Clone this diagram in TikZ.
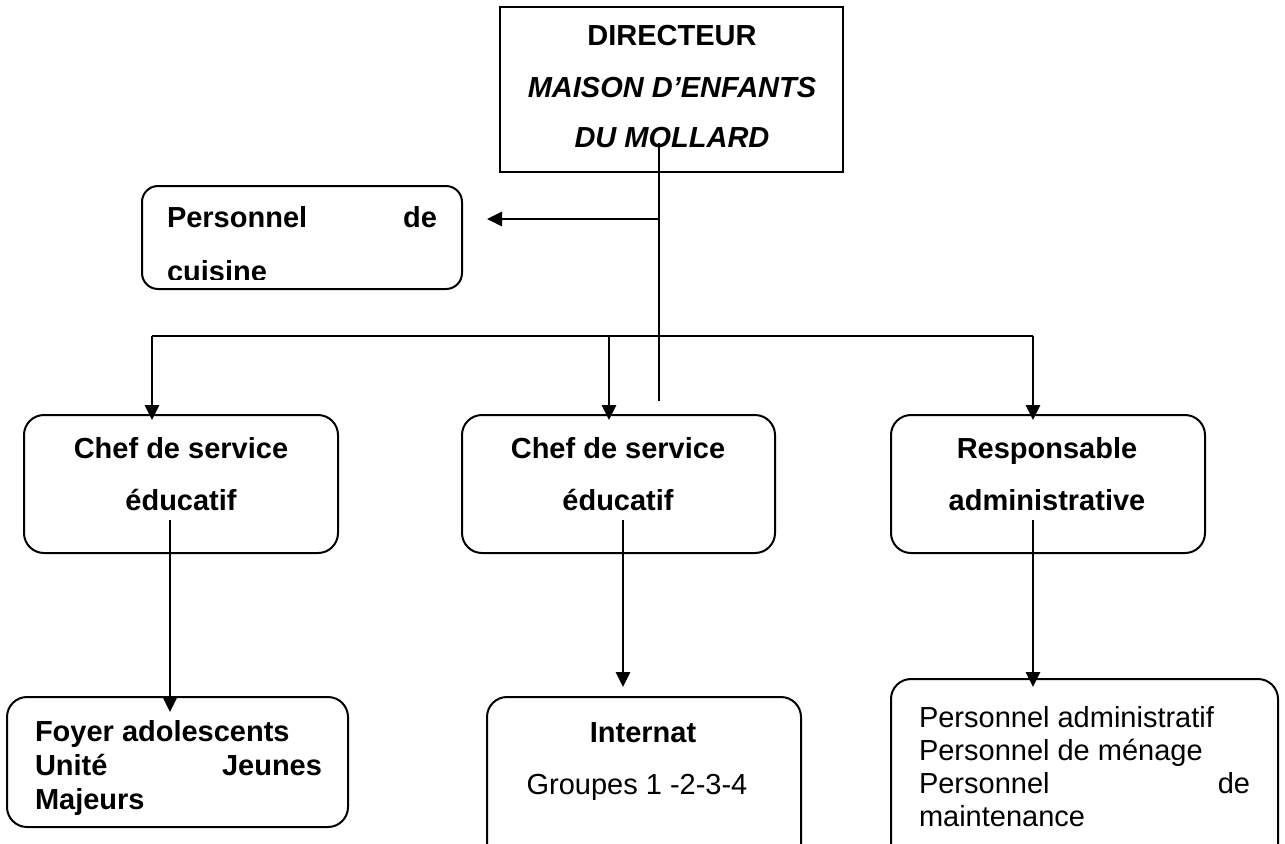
\documentclass[tikz,border=0pt]{standalone}
\usepackage{fontspec}
\setmainfont{Liberation Sans}
\usetikzlibrary{arrows.meta}
\begin{document}
\begin{tikzpicture}[x=0.5pt,y=-0.5pt,
  box/.style={draw, line width=1pt, inner sep=0pt, outer sep=0pt, rectangle},
  rbox/.style={box, rounded corners=10pt},
  txt/.style={inner sep=0pt, outer sep=0pt, font=\fontsize{14.5}{17}\selectfont},
  btxt/.style={inner sep=0pt, outer sep=0pt, font=\fontsize{14.5}{17}\selectfont\bfseries},
  bitxt/.style={inner sep=0pt, outer sep=0pt, font=\fontsize{14.5}{17}\selectfont\bfseries\itshape},
  conn/.style={line width=1.2pt},
  arr/.style={line width=1.4pt, -{Triangle[length=7.5pt,width=7pt]}}]
\useasboundingbox (0,0) rectangle (1285,843);
\clip (0,0) rectangle (1285,843);

% boxes
\node[box, minimum width=171.5pt, minimum height=82.5pt] (dir) at (671.5,89.5) {};
\node[rbox, rounded corners=8pt, minimum width=160pt, minimum height=51.5pt] (cuisine) at (302,237.5) {};
\node[rbox, minimum width=157pt, minimum height=69pt] (chefA) at (181,484) {};
\node[rbox, minimum width=156.5pt, minimum height=69pt] (chefB) at (618.5,484) {};
\node[rbox, minimum width=157pt, minimum height=69pt] (resp) at (1048,484) {};
\node[rbox, minimum width=170.5pt, minimum height=65pt] (foyer) at (177.5,762) {};
\node[rbox, minimum width=157pt, minimum height=89pt] (internat) at (644,786) {};
\node[rbox, minimum width=193.5pt, minimum height=98pt] (persadm) at (1084.5,777) {};

% texts
\node[btxt, anchor=base] (dir1) at (672,45) {DIRECTEUR};
\node[bitxt, anchor=base] (dir2) at (672,97) {MAISON D’ENFANTS};
\node[bitxt, anchor=base] (dir3) at (672,147) {DU MOLLARD};

\node[btxt, anchor=base west] (cuis1) at (167,227) {\makebox[135pt][s]{Personnel\hfill de}};
\begin{scope}
  \clip (142,186) rectangle (462,279);
  \node[btxt, anchor=base west] (cuis2) at (167,281) {cuisine};
\end{scope}

\node[btxt, anchor=base] (ca1) at (181,458) {Chef de service};
\node[btxt, anchor=base] (ca2) at (181,510) {éducatif};
\node[btxt, anchor=base] (cb1) at (618,458) {Chef de service};
\node[btxt, anchor=base] (cb2) at (618,510) {éducatif};
\node[btxt, anchor=base] (r1) at (1047,458) {Responsable};
\node[btxt, anchor=base] (r2) at (1047,510) {administrative};

\node[btxt, anchor=base west] (f1) at (35,741) {Foyer adolescents};
\node[btxt, anchor=base west] (f2) at (35,775) {\makebox[143.5pt][s]{Unité\hfill Jeunes}};
\node[btxt, anchor=base west] (f3) at (35,809) {Majeurs};

\node[btxt, anchor=base] (i1) at (643,742) {Internat};
\node[txt, anchor=base] (i2) at (637,794) {Groupes 1 -2-3-4};

\node[txt, anchor=base west] (p1) at (919,727) {Personnel administratif};
\node[txt, anchor=base west] (p2) at (919,760) {Personnel de ménage};
\node[txt, anchor=base west] (p3) at (919,793) {\makebox[165.5pt][s]{Personnel\hfill de}};
\node[txt, anchor=base west] (p4) at (919,826) {maintenance};

% connectors
\coordinate (d1) at (659,143);
\coordinate (d2) at (659,401);
\draw[line width=0.9pt] (d1) -- (d2);
\coordinate (cj) at (659,219);
\coordinate (ct) at (487,219);
\draw[arr] (cj) -- (ct);

\coordinate (bl) at (152,336);
\coordinate (bm) at (609,336);
\coordinate (br) at (1033,336);
\draw[conn] (bl) -- (br);
\draw[arr] (bl) -- ([yshift=-2.5pt]bl |- chefA.north);
\draw[arr] (bm) -- ([yshift=-2.5pt]bm |- chefB.north);
\draw[arr] (br) -- ([yshift=-2.5pt]br |- resp.north);

\coordinate (la) at (170,520);
\coordinate (lb) at (623,520);
\coordinate (lc) at (1033,520);
\draw[arr] (la) -- ([yshift=-7.5pt]la |- foyer.north);
\draw[arr] (lb) -- ([yshift=5pt]lb |- internat.north);
\draw[arr] (lc) -- ([yshift=-4pt]lc |- persadm.north);
\end{tikzpicture}
\end{document}
